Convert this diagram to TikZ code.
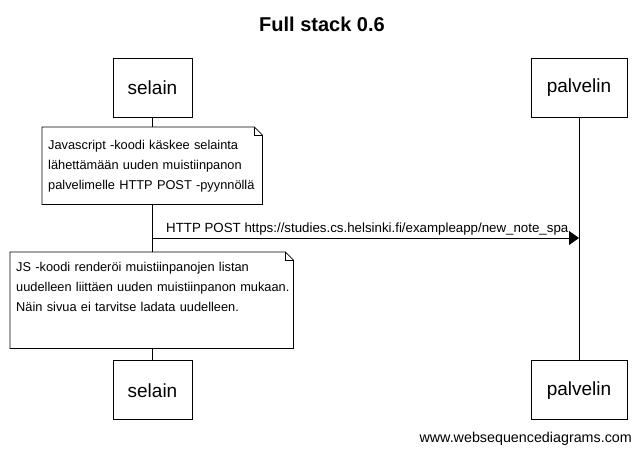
\documentclass[tikz,border=0pt]{standalone}
\usepackage{fontspec}
\setmainfont{Liberation Sans}
\usetikzlibrary{positioning, arrows.meta, calc}

\begin{document}
\begin{tikzpicture}[
x=1pt, y=-1pt,
actor/.style={rectangle,
  draw,
  line width=0.8pt,
  minimum height=59pt,
  inner xsep=0pt,
  font=\fontsize{19}{22}\selectfont
},
notetext/.style={rectangle,
  anchor=north west,
  inner xsep=6pt,
  align=left,
  font=\fontsize{12.8}{20}\selectfont
},
notebox/.style={line width=0.8pt},
lifeline/.style={line width=0.8pt},
>={Triangle[length=10pt,width=14pt]}
]
\useasboundingbox (0,0) rectangle (641,452);

\node[font=\bfseries\fontsize{20}{22}\selectfont] (title) at (322,24)
    {Full stack 0.6};

\node[actor, minimum width=79pt] (selainTop) at (152.5,87.5)
    {selain};
\node[actor, minimum width=96pt] (palvelinTop) at (579,87.5)
    {palvelin};
\node[actor, minimum width=79pt, below=243pt of selainTop] (selainBot)
    {selain};
\node[actor, minimum width=96pt, below=243pt of palvelinTop] (palvelinBot)
    {palvelin};

\draw[lifeline] (selainTop.south) -- (selainBot.north);
\draw[lifeline] (palvelinTop.south) -- (palvelinBot.north);

% first note
\node[notetext, fill=white, text width=208pt, minimum height=77pt] (note1) at (42,127)
    {\mbox{Javascript -koodi käskee selainta}\\
     \mbox{lähettämään uuden muistiinpanon}\\
     \mbox{palvelimelle HTTP POST -pyynnöllä}\\[-3pt]};
\draw[notebox] (note1.north west) -- ($(note1.north east)+(-8,0)$) -- ($(note1.north east)+(0,8)$)
    -- (note1.south east) -- (note1.south west) -- cycle;
\draw[notebox] ($(note1.north east)+(-8,0)$) -- ($(note1.north east)+(-8,8)$) -- ($(note1.north east)+(0,8)$);

% message
\coordinate (msgStart) at (selainTop.south |- 0,238);
\coordinate (msgEnd) at (palvelinTop.south |- 0,238);
\draw[->, line width=0.8pt] (msgStart) -- (msgEnd);
\node[anchor=base west, inner sep=0pt, font=\fontsize{13.3}{16}\selectfont] (msg) at (166,233)
    {HTTP POST https://studies.cs.helsinki.fi/exampleapp/new\_note\_spa};

% second note
\node[notetext, fill=white, text width=271pt, minimum height=96pt] (note2) at (10,252)
    {\mbox{JS -koodi renderöi muistiinpanojen listan}\\
     \mbox{uudelleen liittäen uuden muistiinpanon mukaan.}\\
     \mbox{Näin sivua ei tarvitse ladata uudelleen.}\\
     \strut};
\draw[notebox] (note2.north west) -- ($(note2.north east)+(-8,0)$) -- ($(note2.north east)+(0,8)$)
    -- (note2.south east) -- (note2.south west) -- cycle;
\draw[notebox] ($(note2.north east)+(-8,0)$) -- ($(note2.north east)+(-8,8)$) -- ($(note2.north east)+(0,8)$);

\node[anchor=base east, inner sep=0pt, font=\fontsize{14.3}{16}\selectfont] (footer) at (632,442)
    {www.websequencediagrams.com};
\end{tikzpicture}
\end{document}
